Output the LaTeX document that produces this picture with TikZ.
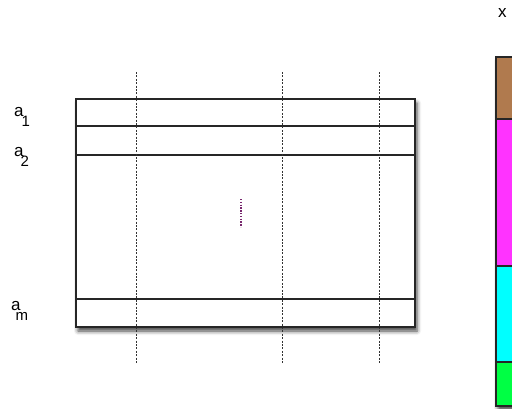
\documentclass[tikz,border=0pt]{standalone}
\usepackage{fontspec}
\setmainfont{Liberation Sans}
\usetikzlibrary{shadows.blur}
\definecolor{xbrown}{RGB}{176,122,78}
\definecolor{xmagenta}{RGB}{255,51,255}
\definecolor{xcyan}{RGB}{0,255,255}
\definecolor{xgreen}{RGB}{0,255,68}
\definecolor{xdots}{RGB}{120,40,110}
\newcommand{\rowsub}[2][-3pt]{\kern#1\raisebox{-10pt}{\fontsize{15}{15}\selectfont #2}}
\begin{document}
\begin{tikzpicture}[
    x=1pt,
    y=-1pt,
    line cap=butt,
    line join=miter,
    frame/.style={line width=1.3pt,draw=black!85},
    shade box/.style={blur shadow={shadow xshift=2pt,shadow yshift=-4pt,shadow blur radius=4pt,shadow opacity=75}},
    column/.style={line width=1pt,draw=black!80,dash pattern=on 2pt off 1.4pt},
    label/.style={font=\fontsize{17}{17}\selectfont,inner sep=0pt,anchor=base west}
]

% =========================================================
% Параметры
% =========================================================

\def\L{76}     % левый край матрицы
\def\R{415}    % правый край матрицы
\def\T{99}     % верхний край
\def\B{327}    % нижний край

\useasboundingbox (0,0) rectangle (512,408);
\clip (0,0) rectangle (512,408);

% =========================================================
% Матрица A
% =========================================================

\coordinate (A0) at (\L,\T);
\coordinate (A1) at (\R,\B);

\fill[white,shade box] (A0) rectangle (A1);

\draw[frame] (\L,126) -- (\R,126);
\draw[frame] (\L,155) -- (\R,155);
\draw[frame] (\L,299) -- (\R,299);

% =========================================================
% Столбцы (пунктир)
% =========================================================

\foreach \c in {136,282,379}
    \draw[column] (\c,72) -- (\c,364);

\draw[frame] (A0) rectangle (A1);

% =========================================================
% Многоточие
% =========================================================

\draw[line width=1.8pt,draw=xdots,dash pattern=on 1.3pt off 1.5pt]
    (241,199) -- (241,227);

% =========================================================
% Подписи строк
% =========================================================

\node[label] (a1) at (14,116) {a\rowsub[-2pt]{1}};
\node[label] (a2) at (14,156) {a\rowsub{2}};
\node[label] (am) at (11,310) {a\rowsub[-5pt]{m}};

% =========================================================
% Вектор x
% =========================================================

\node[label] (x) at (498,17) {x};

\coordinate (X0) at (496,57);
\coordinate (X1) at (530,406);

\fill[white,shade box] (X0) rectangle (X1);
\fill[xbrown]   (496,57)  rectangle (530,119);
\fill[xmagenta] (496,119) rectangle (530,266);
\fill[xcyan]    (496,266) rectangle (530,362);
\fill[xgreen]   (496,362) rectangle (530,406);

\draw[frame] (496,119) -- (530,119);
\draw[frame] (496,266) -- (530,266);
\draw[frame] (496,362) -- (530,362);
\draw[frame] (X0) rectangle (X1);

\end{tikzpicture}
\end{document}
